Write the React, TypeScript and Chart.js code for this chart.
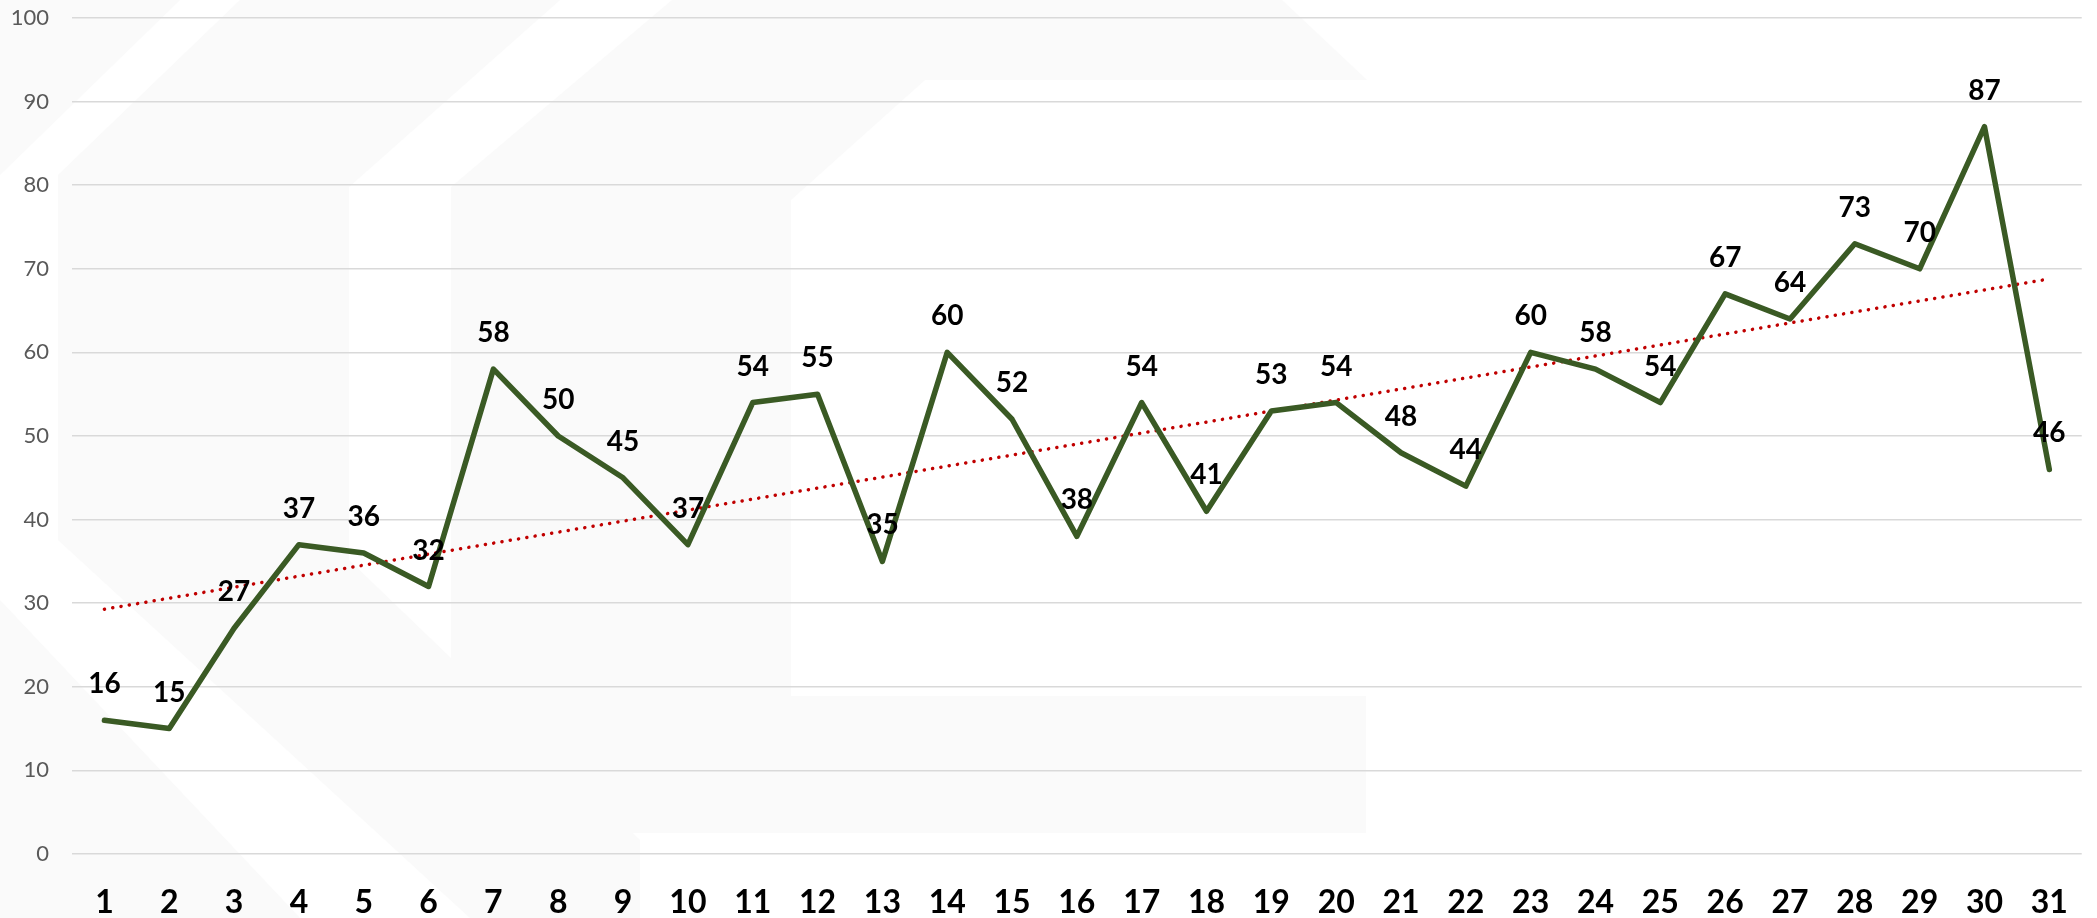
import React, { useEffect, useRef } from 'react';
import { Chart, registerables } from 'chart.js';

Chart.register(...registerables);

const days: string[] = [
  '1', '2', '3', '4', '5', '6', '7', '8', '9', '10', '11', '12', '13', '14', '15', '16',
  '17', '18', '19', '20', '21', '22', '23', '24', '25', '26', '27', '28', '29', '30', '31',
];

const values: number[] = [
  16, 15, 27, 37, 36, 32, 58, 50, 45, 37, 54, 55, 35, 60, 52, 38,
  54, 41, 53, 54, 48, 44, 60, 58, 54, 67, 64, 73, 70, 87, 46,
];

const yMin = 0;
const yMax = 100;
const yStep = 10;

function linearTrend(v: number[]): number[] {
  const n = v.length;
  let sx = 0, sy = 0, sxx = 0, sxy = 0;
  for (let i = 0; i < n; i++) {
    const x = i + 1;
    sx += x; sy += v[i]; sxx += x * x; sxy += x * v[i];
  }
  const slope = (n * sxy - sx * sy) / (n * sxx - sx * sx);
  const icpt = (sy - slope * sx) / n;
  return v.map((_, i) => icpt + slope * (i + 1));
}

const FONT = 'Lato, "Open Sans", "Noto Sans", sans-serif';

const valueLabels = {
  id: 'valueLabels',
  afterDatasetsDraw(chart: any) {
    const ctx = chart.ctx;
    const meta = chart.getDatasetMeta(0);
    ctx.save();
    ctx.font = `bold 28px ${FONT}`;
    ctx.fillStyle = '#000000';
    ctx.textAlign = 'center';
    ctx.textBaseline = 'middle';
    meta.data.forEach((pt: any, i: number) => {
      ctx.fillText(String(values[i]), pt.x, pt.y - 36);
    });
    ctx.restore();
  },
};

// faint decorative watermark behind the plot
const watermarkShapes: number[][][] = [
  [[0, 0], [180, 0], [0, 175]],
  [[240, 0], [560, 0], [349, 187], [349, 560], [640, 840], [640, 918], [470, 918], [58, 540], [58, 175]],
  [[672, 0], [1282, 0], [1367, 80], [925, 80], [791, 200], [791, 696], [1366, 696], [1366, 833], [560, 833], [451, 720], [451, 187]],
  [[0, 600], [300, 918], [0, 918]],
];

const background = {
  id: 'background',
  beforeDraw(chart: any) {
    const ctx = chart.ctx;
    ctx.save();
    ctx.fillStyle = '#ffffff';
    ctx.fillRect(0, 0, chart.width, chart.height);
    ctx.fillStyle = '#fafafa';
    watermarkShapes.forEach((poly) => {
      ctx.beginPath();
      poly.forEach(([x, y], i) => (i === 0 ? ctx.moveTo(x, y) : ctx.lineTo(x, y)));
      ctx.closePath();
      ctx.fill();
    });
    ctx.restore();
  },
};

export default function App() {
  const ref = useRef<HTMLCanvasElement | null>(null);

  useEffect(() => {
    if (!ref.current) return;
    const trend = linearTrend(values);
    const chart = new Chart(ref.current, {
      type: 'line',
      data: {
        labels: days,
        datasets: [
          {
            label: 'Values',
            data: values,
            borderColor: '#3A5A24',
            borderWidth: 5.5,
            pointRadius: 0,
            tension: 0,
            borderCapStyle: 'round',
            borderJoinStyle: 'round',
            fill: false,
            order: 1,
          },
          {
            label: 'Trend',
            data: trend,
            borderColor: '#C00000',
            borderWidth: 3.5,
            borderDash: [0.1, 8.3],
            borderCapStyle: 'round',
            pointRadius: 0,
            tension: 0,
            fill: false,
            order: 2,
          },
        ],
      },
      options: {
        responsive: false,
        animation: false,
        devicePixelRatio: 1,
        layout: { padding: { top: 18, right: 7, left: 0, bottom: 0 } },
        plugins: {
          legend: { display: false },
          tooltip: { enabled: false },
        },
        scales: {
          x: {
            type: 'category',
            offset: true,
            grid: { display: false, drawTicks: false },
            border: { display: false },
            ticks: {
              autoSkip: false,
              maxRotation: 0,
              padding: 29,
              color: '#000000',
              font: { family: FONT, size: 32, weight: 'bold' },
            },
            afterFit(scale: any) {
              scale.height = 64;
            },
          },
          y: {
            min: yMin,
            max: yMax,
            ticks: {
              stepSize: yStep,
              padding: 23,
              color: '#595959',
              font: { family: FONT, size: 22 },
            },
            grid: { color: '#D9D9D9', lineWidth: 1.5, drawTicks: false },
            border: { display: false },
            afterFit(scale: any) {
              scale.width = 72;
              scale.paddingTop = 0;
              scale.paddingBottom = 0;
            },
          },
        },
      },
      plugins: [background, valueLabels],
    });
    return () => chart.destroy();
  }, []);

  return (
    <div style={{ position: 'absolute', left: 0, top: 0, width: 2097, height: 918 }}>
      <canvas ref={ref} width={2097} height={918} style={{ display: 'block' }} />
    </div>
  );
}
